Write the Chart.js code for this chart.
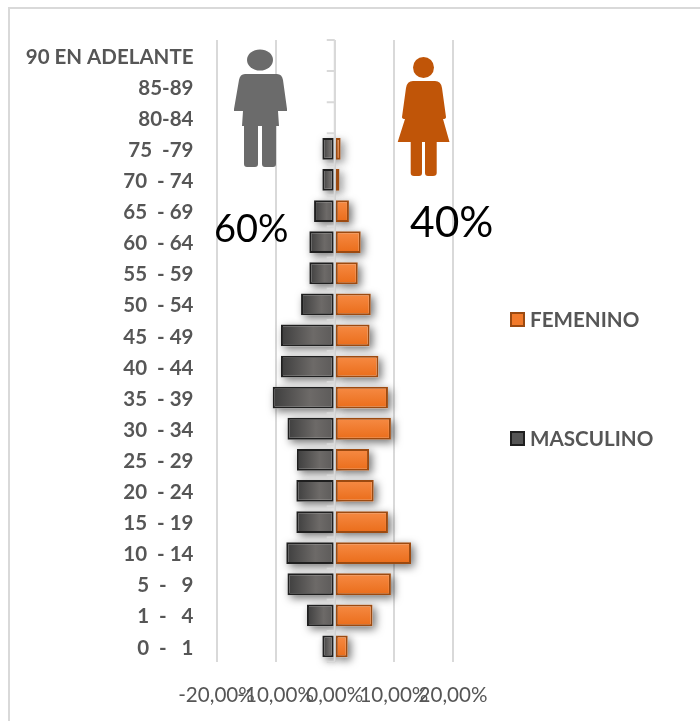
<!DOCTYPE html>
<html>
<head>
<meta charset="utf-8">
<style>
  html, body { margin: 0; padding: 0; background: #fff; }
  #wrap { position: relative; width: 700px; height: 721px; }
</style>
<script src="https://cdn.jsdelivr.net/npm/chart.js@4"></script>
</head>
<body>
<div id="wrap"><canvas id="chart" width="700" height="721"></canvas></div>
<script>
const categories = ['90 EN ADELANTE', '85-89', '80-84', '75  -79', '70  - 74', '65  - 69', '60  - 64', '55  - 59', '50  - 54', '45  - 49', '40  - 44', '35  - 39', '30  - 34', '25  - 29', '20  - 24', '15  - 19', '10  - 14', '5  -   9', '1  -   4', '0  -   1'];
const femenino = [null, null, null, 1.0, 0.8, 2.4, 4.4, 3.9, 6.1, 5.9, 7.4, 9.0, 9.5, 5.8, 6.6, 9.0, 12.9, 9.5, 6.4, 2.2];
const masculino = [null, null, null, -2.1, -2.1, -3.5, -4.3, -4.3, -5.7, -9.1, -9.1, -10.5, -8.0, -6.4, -6.5, -6.5, -8.2, -8.0, -4.7, -2.1];
const xTicks = [-20, -10, 0, 10, 20];

const font = 'Lato, "Noto Sans", sans-serif';
const textGrey = '#565656';
const gridGrey = '#d9d9d9';

// degradado de cada barra, calculado con las escalas
function maleFill(c) {
  const x = c.chart.scales.x;
  if (!x || c.dataIndex === undefined || c.raw == null) return '#5c5a59';
  const x0 = x.getPixelForValue(c.raw);
  const x1 = x.getPixelForValue(0);
  if (!isFinite(x0) || !isFinite(x1)) return '#5c5a59';
  const g = c.chart.ctx.createLinearGradient(x0, 0, x1, 0);
  g.addColorStop(0, '#3e3e3e');
  g.addColorStop(0.6, '#6d6a68');
  g.addColorStop(1, '#5c5a59');
  return g;
}

function femaleFill(c) {
  const y = c.chart.scales.y;
  if (!y || c.dataIndex === undefined) return '#f27a2a';
  const mid = y.getPixelForValue(c.dataIndex);
  if (!isFinite(mid)) return '#f27a2a';
  const g = c.chart.ctx.createLinearGradient(0, mid - 11, 0, mid + 11);
  g.addColorStop(0, '#f68b45');
  g.addColorStop(1, '#ea6c19');
  return g;
}

// sombra suave debajo de las barras
const barShadow = {
  id: 'barShadow',
  beforeDatasetsDraw(chart) {
    const ctx = chart.ctx;
    ctx.save();
    chart.data.datasets.forEach((ds, i) => {
      chart.getDatasetMeta(i).data.forEach((bar, n) => {
        if (ds.data[n] == null) return;
        const left = Math.min(bar.x, bar.base);
        const w = Math.abs(bar.x - bar.base);
        ctx.shadowColor = 'rgba(0,0,0,0.55)';
        ctx.shadowBlur = 8;
        ctx.shadowOffsetX = 3;
        ctx.shadowOffsetY = 3;
        ctx.fillStyle = '#fff';
        ctx.fillRect(left, bar.y - bar.height / 2, w, bar.height);
      });
    });
    ctx.restore();
  }
};

// eje vertical en el cero con sus marcas, por encima de las barras
const zeroAxis = {
  id: 'zeroAxis',
  afterDatasetsDraw(chart) {
    const ctx = chart.ctx;
    const zero = chart.scales.x.getPixelForValue(0);
    const y = chart.scales.y;
    ctx.save();
    ctx.strokeStyle = gridGrey;
    ctx.lineWidth = 2;
    ctx.beginPath();
    ctx.moveTo(zero, y.top);
    ctx.lineTo(zero, y.bottom);
    for (let i = 0; i <= categories.length; i++) {
      const py = y.getPixelForValue(i - 0.5);
      ctx.moveTo(zero - 8, py);
      ctx.lineTo(zero, py);
    }
    ctx.stroke();
    ctx.restore();
  }
};

// marco, iconos, porcentajes y leyenda
const extras = {
  id: 'extras',
  afterDraw(chart) {
    const ctx = chart.ctx;
    ctx.save();

    ctx.strokeStyle = gridGrey;
    ctx.lineWidth = 2;
    ctx.beginPath();
    ctx.moveTo(9, 721);
    ctx.lineTo(9, 8);
    ctx.lineTo(700, 8);
    ctx.stroke();

    // hombre
    ctx.fillStyle = '#6b6b6b';
    ctx.beginPath();
    ctx.ellipse(260, 60, 13, 10.5, 0, 0, Math.PI * 2);
    ctx.fill();
    ctx.beginPath();
    ctx.moveTo(245, 74);
    ctx.lineTo(277, 74);
    ctx.quadraticCurveTo(282, 74, 283, 80);
    ctx.lineTo(287, 109);
    ctx.lineTo(287, 111);
    ctx.lineTo(278, 111);
    ctx.lineTo(279, 126);
    ctx.lineTo(276, 126);
    ctx.lineTo(276, 164);
    ctx.quadraticCurveTo(276, 167, 273, 167);
    ctx.lineTo(265, 167);
    ctx.quadraticCurveTo(262, 167, 262, 164);
    ctx.lineTo(262, 126);
    ctx.lineTo(258, 126);
    ctx.lineTo(258, 164);
    ctx.quadraticCurveTo(258, 167, 255, 167);
    ctx.lineTo(247, 167);
    ctx.quadraticCurveTo(244, 167, 244, 164);
    ctx.lineTo(244, 126);
    ctx.lineTo(242, 126);
    ctx.lineTo(243, 111);
    ctx.lineTo(234, 111);
    ctx.lineTo(234, 109);
    ctx.lineTo(239, 80);
    ctx.quadraticCurveTo(240, 74, 245, 74);
    ctx.fill();

    // mujer
    ctx.fillStyle = '#c05508';
    ctx.beginPath();
    ctx.arc(423.5, 67.5, 10.5, 0, Math.PI * 2);
    ctx.fill();
    ctx.beginPath();
    ctx.moveTo(413, 81);
    ctx.lineTo(435, 81);
    ctx.quadraticCurveTo(441, 81, 442, 88);
    ctx.lineTo(446, 117);
    ctx.quadraticCurveTo(446, 119, 443, 119);
    ctx.lineTo(449.5, 142);
    ctx.lineTo(436.7, 142);
    ctx.lineTo(436.7, 173);
    ctx.quadraticCurveTo(436.7, 176, 433, 176);
    ctx.lineTo(428, 176);
    ctx.quadraticCurveTo(425, 176, 425, 173);
    ctx.lineTo(425, 142);
    ctx.lineTo(422, 142);
    ctx.lineTo(422, 173);
    ctx.quadraticCurveTo(422, 176, 419, 176);
    ctx.lineTo(414, 176);
    ctx.quadraticCurveTo(410.7, 176, 410.7, 173);
    ctx.lineTo(410.7, 142);
    ctx.lineTo(397.7, 142);
    ctx.lineTo(405, 119);
    ctx.quadraticCurveTo(402, 119, 402, 117);
    ctx.lineTo(406, 88);
    ctx.quadraticCurveTo(407, 81, 413, 81);
    ctx.fill();

    ctx.fillStyle = '#000';
    ctx.textBaseline = 'middle';
    ctx.textAlign = 'left';
    ctx.font = '38px ' + font;
    ctx.fillText('60%', 214, 230);
    ctx.font = '42.5px ' + font;
    ctx.fillText('40%', 410, 223);

    // leyenda
    ctx.lineWidth = 2;
    ctx.fillStyle = '#f27a2a';
    ctx.strokeStyle = '#9c4a10';
    ctx.fillRect(511, 313, 13, 13);
    ctx.strokeRect(511, 313, 13, 13);
    ctx.fillStyle = '#555';
    ctx.strokeStyle = '#1f1f1f';
    ctx.fillRect(511, 432, 13, 13);
    ctx.strokeRect(511, 432, 13, 13);
    ctx.fillStyle = textGrey;
    ctx.font = 'bold 20.6px ' + font;
    ctx.fillText('FEMENINO', 530, 320);
    ctx.fillText('MASCULINO', 530, 439);
    ctx.restore();
  }
};

new Chart(document.getElementById('chart'), {
  type: 'bar',
  data: {
    labels: categories,
    datasets: [
      { label: 'FEMENINO', data: femenino, backgroundColor: femaleFill, borderColor: '#9c4a10', borderWidth: 2, borderSkipped: false },
      { label: 'MASCULINO', data: masculino, backgroundColor: maleFill, borderColor: '#1f1f1f', borderWidth: 2, borderSkipped: false }
    ]
  },
  options: {
    indexAxis: 'y',
    responsive: false,
    animation: false,
    barPercentage: 0.7,
    categoryPercentage: 1,
    layout: { padding: { top: 40, right: 247, left: 0, bottom: 0 } },
    plugins: { legend: { display: false }, tooltip: { enabled: false } },
    scales: {
      x: {
        stacked: true,
        min: -20,
        max: 20,
        afterFit(scale) { scale.height = 59; },
        afterBuildTicks(scale) { scale.ticks = xTicks.map(v => ({ value: v })); },
        grid: { color: gridGrey, lineWidth: 2, drawTicks: false },
        border: { display: false },
        ticks: {
          autoSkip: false,
          maxRotation: 0,
          padding: 21,
          color: textGrey,
          font: { family: font, size: 20.6 },
          callback: v => v.toFixed(2).replace('.', ',') + '%'
        }
      },
      y: {
        stacked: true,
        afterFit(scale) { scale.width = 216.5; },
        grid: { display: false },
        border: { display: false },
        ticks: {
          autoSkip: false,
          padding: 15,
          labelOffset: 1.5,
          color: textGrey,
          font: { family: font, size: 20.5, weight: 'bold' }
        }
      }
    }
  },
  plugins: [barShadow, zeroAxis, extras]
});
</script>
</body>
</html>
